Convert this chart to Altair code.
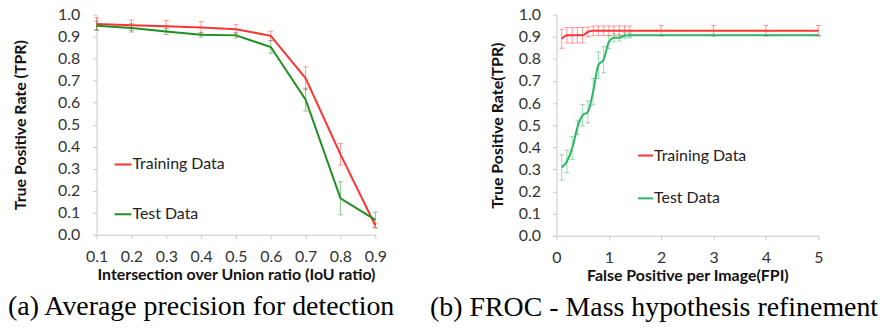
import altair as alt
import pandas as pd

# ---------------- data ----------------
SERIES = ["Training Data", "Test Data"]

# (a) IoU ratio vs TPR
iou_x = [0.1, 0.2, 0.3, 0.4, 0.5, 0.6, 0.7, 0.8, 0.9]
iou_train = [0.958, 0.952, 0.948, 0.942, 0.934, 0.904, 0.711, 0.365, 0.042]
iou_train_err = [0.028, 0.024, 0.026, 0.026, 0.022, 0.021, 0.052, 0.049, 0.010]
iou_test = [0.950, 0.940, 0.924, 0.909, 0.906, 0.853, 0.614, 0.165, 0.067]
iou_test_err = [0.020, 0.019, 0.014, 0.011, 0.012, 0.028, 0.052, 0.075, 0.036]

# (b) FROC
fpi_x = [0.1, 0.2, 0.3, 0.4, 0.5, 0.6, 0.7, 0.8, 0.9, 1.0, 1.1, 1.2, 1.3, 1.4, 2, 3, 4, 5]
fpi_train = [0.891, 0.907, 0.907, 0.907, 0.907, 0.922, 0.927, 0.927, 0.927, 0.927,
             0.927, 0.927, 0.927, 0.927, 0.927, 0.927, 0.927, 0.927]
fpi_train_err = [0.043, 0.035, 0.035, 0.035, 0.035, 0.022, 0.022, 0.022, 0.022, 0.022,
                 0.022, 0.022, 0.022, 0.022, 0.024, 0.024, 0.024, 0.024]
fpi_test = [0.309, 0.336, 0.396, 0.490, 0.545, 0.560, 0.652, 0.772, 0.796, 0.876,
            0.896, 0.896, 0.906, 0.907, 0.907, 0.907, 0.907, 0.907]
fpi_test_err = [0.057, 0.051, 0.052, 0.033, 0.048, 0.050, 0.060, 0.060, 0.059, 0.030,
                0.018, 0.015, 0.012, 0.010, 0.0, 0.0, 0.0, 0.0]

y_ticks = [0.0, 0.1, 0.2, 0.3, 0.4, 0.5, 0.6, 0.7, 0.8, 0.9, 1.0]
iou_ticks = [0.1, 0.2, 0.3, 0.4, 0.5, 0.6, 0.7, 0.8, 0.9]
fpi_ticks = [0, 1, 2, 3, 4, 5]

RED = "#FF3333"
GREEN_A = "#1F8F1F"
GREEN_B = "#2DB563"
FONT = "Lato"
FS = 16


def frame(x, train, train_err, test, test_err):
    rows = []
    for s, ys, es in ((SERIES[0], train, train_err), (SERIES[1], test, test_err)):
        for xi, yi, ei in zip(x, ys, es):
            rows.append({"series": s, "x": xi, "y": yi, "lo": yi - ei, "hi": yi + ei})
    return pd.DataFrame(rows)


def axis_common(**kw):
    base = dict(grid=False, domainColor="#C8C8C8", tickColor="#C8C8C8", tickSize=4,
                labelFont=FONT, labelFontSize=FS, labelColor="#333333",
                labelFlush=False, labelOverlap=False,
                titleFont=FONT, titleFontSize=FS, titleFontWeight="bold", titleColor="#111111")
    base.update(kw)
    return alt.Axis(**base)


def panel(df, xdomain, xticks, xfmt, xtitle, ytitle, green, width, height,
          ytitle_pad, ylabel_pad, xlabel_pad, legx, legy, legsize, legrow,
          interp, caption, cap_dx):
    xenc = lambda f: alt.X(f"{f}:Q", title=xtitle,
                           scale=alt.Scale(domain=xdomain, nice=False, zero=False),
                           axis=axis_common(values=xticks, format=xfmt,
                                            labelPadding=xlabel_pad, titlePadding=2))
    yenc = lambda f: alt.Y(f"{f}:Q", title=ytitle,
                           scale=alt.Scale(domain=[0, 1], nice=False),
                           axis=axis_common(values=y_ticks, format=".1f",
                                            labelPadding=ylabel_pad, titlePadding=ytitle_pad))
    cscale = alt.Scale(domain=SERIES, range=[RED, green])
    legend = alt.Legend(title=None, orient="none", legendX=legx, legendY=legy,
                        direction="vertical", symbolType="stroke",
                        symbolSize=legsize, symbolStrokeWidth=2, symbolOpacity=1,
                        labelFont=FONT, labelFontSize=FS, labelColor="#222222",
                        labelOffset=0, rowPadding=legrow, padding=0)
    color = alt.Color("series:N", scale=cscale, sort=SERIES, legend=legend)

    err = alt.Chart(df).mark_errorbar(ticks=True, size=5, thickness=1, opacity=0.5).encode(
        x=xenc("x"), y=yenc("lo"), y2="hi:Q", color=color,
    )
    line = alt.Chart(df).mark_line(strokeWidth=2, interpolate=interp).encode(
        x=xenc("x"), y=yenc("y"), color=color, order="series:N",
    )
    return alt.layer(err, line).properties(
        width=width, height=height,
        title=alt.TitleParams(caption, orient="bottom", anchor="start", frame="group",
                              dx=cap_dx, offset=11, font="Liberation Serif", fontSize=28,
                              fontWeight="normal", color="#000000", baseline="top"),
    )


left = panel(frame(iou_x, iou_train, iou_train_err, iou_test, iou_test_err),
             [0.1, 0.9], iou_ticks, ".1f", "Intersection over Union ratio (IoU ratio)",
             "True Positive Rate (TPR)", GREEN_A, 280, 221,
             ytitle_pad=29, ylabel_pad=13, xlabel_pad=10,
             legx=17, legy=141, legsize=289, legrow=32,
             interp="linear", caption="(a) Average precision for detection", cap_dx=-89)

right = panel(frame(fpi_x, fpi_train, fpi_train_err, fpi_test, fpi_test_err),
              [0, 5], fpi_ticks, "d", "False Positive per Image(FPI)",
              "True Positive Rate(TPR)", GREEN_B, 263, 222,
              ytitle_pad=13, ylabel_pad=12, xlabel_pad=10,
              legx=81, legy=133, legsize=225, legrow=26,
              interp="monotone", caption="(b) FROC - Mass hypothesis refinement", cap_dx=-127)

chart = alt.hconcat(left, right, spacing=182, bounds="flush").resolve_scale(
    color="independent", x="independent", y="independent"
).resolve_legend(color="independent").properties(
    padding={"left": 0, "top": -2, "right": 0, "bottom": 0},
    background="white",
).configure_view(stroke=None)

chart.save("out.html", embed_options={"renderer": "svg", "actions": False})
